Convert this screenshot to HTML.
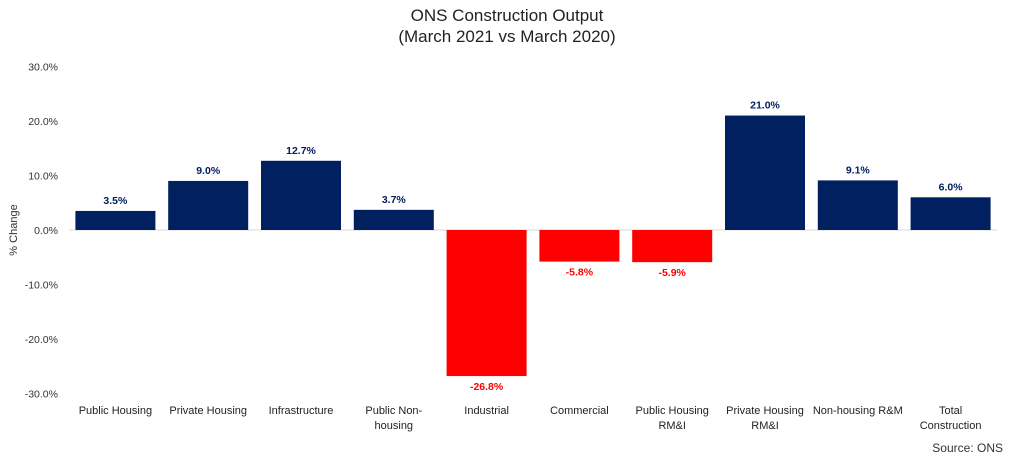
<!DOCTYPE html>
<html><head><meta charset="utf-8"><style>
body{margin:0;background:#fff;font-family:"Liberation Sans",sans-serif;}
svg text{font-family:"Liberation Sans",sans-serif;}
</style></head><body>
<svg id="chart" width="1015" height="464">
<text x="507" y="21" text-anchor="middle" font-size="17" fill="#222">ONS Construction Output</text>
<text x="507" y="42" text-anchor="middle" font-size="17" fill="#222">(March 2021 vs March 2020)</text>
<text transform="translate(17,230) rotate(-90)" text-anchor="middle" font-size="11" fill="#333">% Change</text>
<text x="1003" y="452" text-anchor="end" font-size="12" fill="#333">Source: ONS</text>
<g id="ticks"></g><g id="bars"></g><g id="cats"></g>
</svg>
<script>
const categories=[["Public Housing"],["Private Housing"],["Infrastructure"],["Public Non-","housing"],["Industrial"],["Commercial"],["Public Housing","RM&I"],["Private Housing","RM&I"],["Non-housing R&M"],["Total","Construction"]];
const values=[3.5,9.0,12.7,3.7,-26.8,-5.8,-5.9,21.0,9.1,6.0];
const valueLabels=["3.5%","9.0%","12.7%","3.7%","-26.8%","-5.8%","-5.9%","21.0%","9.1%","6.0%"];
const ticks=[30,20,10,0,-10,-20,-30];
const tickLabels=["30.0%","20.0%","10.0%","0.0%","-10.0%","-20.0%","-30.0%"];
const NS="http://www.w3.org/2000/svg";
const y=v=>230-v*5.45;
const left=69,step=92.8,bw=80;
const x=i=>left+i*step+step/2;
function mk(tag,attrs,parent,txt){const e=document.createElementNS(NS,tag);for(const k in attrs)e.setAttribute(k,attrs[k]);if(txt!==undefined)e.textContent=txt;document.getElementById(parent).appendChild(e);return e;}
ticks.forEach((t,i)=>{
  const e=mk("text",{x:58,y:y(t)+4,"text-anchor":"end","font-size":"10.5",fill:"#333"},"ticks",tickLabels[i]);
  
  
});
const zl=mk("line",{x1:left,x2:left+step*10,y1:y(0),y2:y(0),stroke:"#d9d9d9","stroke-width":1},"ticks");


values.forEach((v,i)=>{
  const neg=v<0;
  const r=mk("rect",{x:x(i)-bw/2,y:Math.min(y(v),y(0)),width:bw,height:Math.abs(y(v)-y(0)),fill:neg?"#ff0000":"#002060"},"bars");
  
  
  const ly=neg?y(v)+14:y(v)-7;
  const l=mk("text",{x:x(i),y:ly,"text-anchor":"middle","font-size":"10.5","font-weight":"bold",fill:neg?"#ff0000":"#002060"},"bars",valueLabels[i]);
  
  
  categories[i].forEach((line,j)=>{
    const c=mk("text",{x:x(i),y:414+j*15,"text-anchor":"middle","font-size":"11",fill:"#222"},"cats",line);
    
    
  });
});
</script>
</body></html>
